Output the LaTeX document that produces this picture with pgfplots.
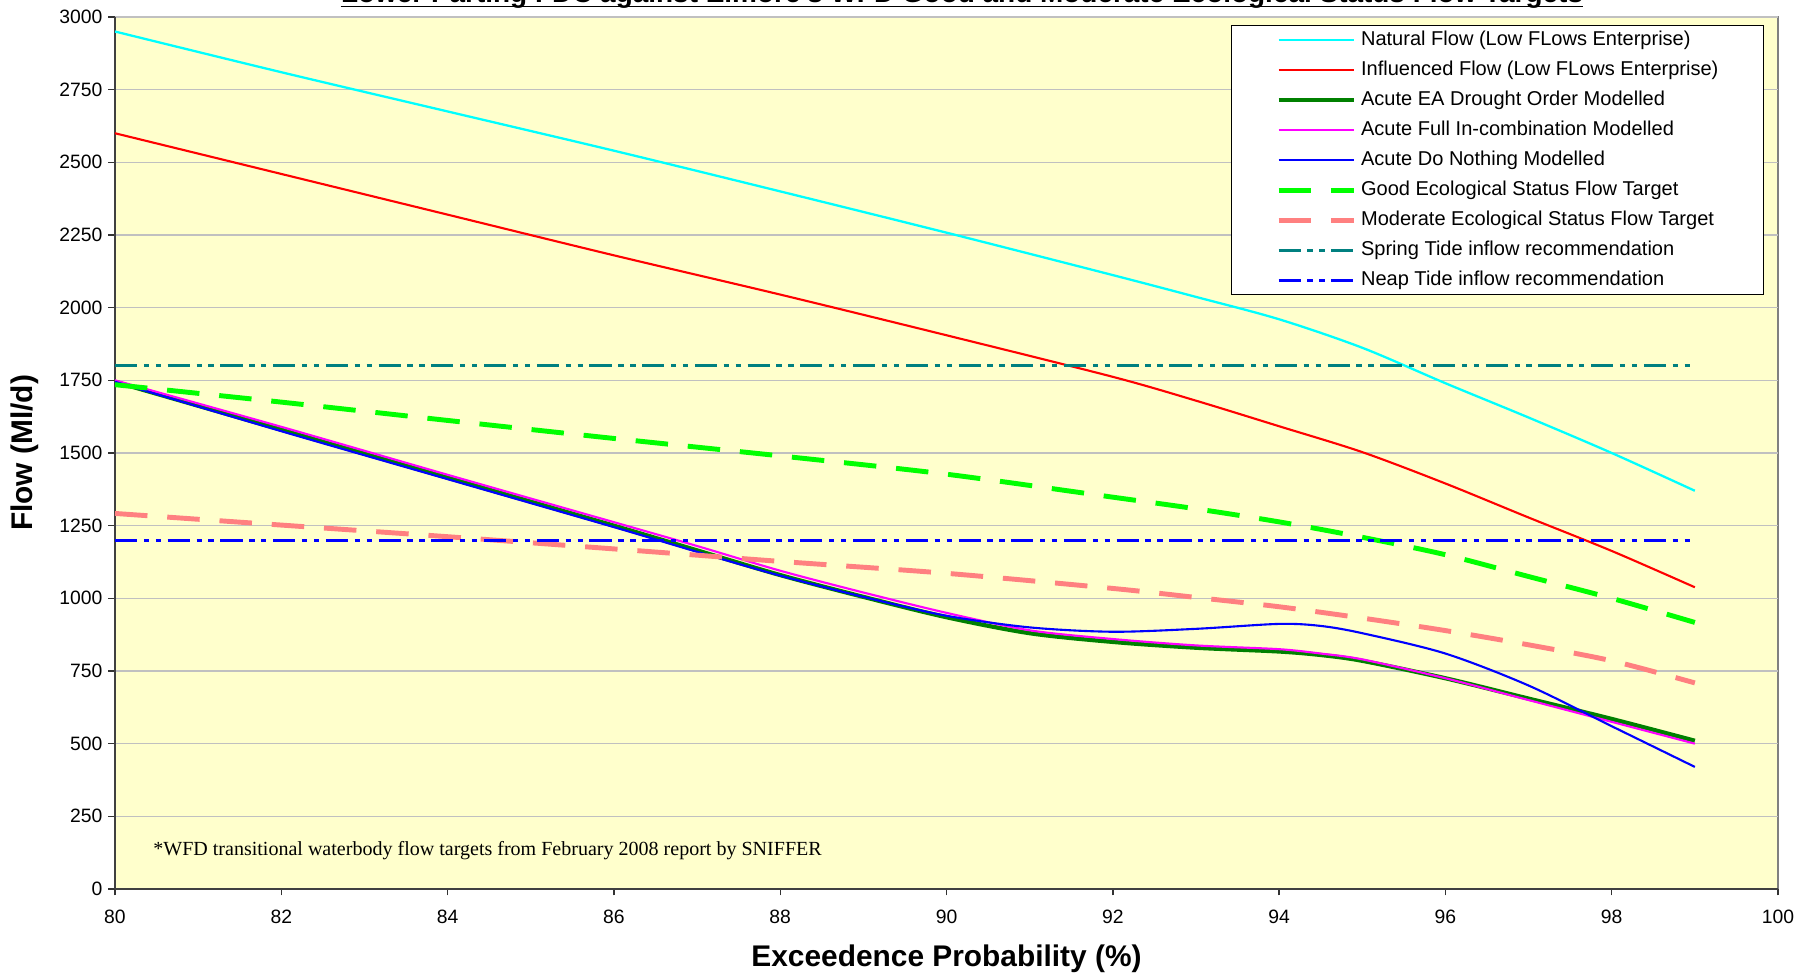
\documentclass[border=0pt]{standalone}
\usepackage{pgfplots}
\pgfplotsset{compat=1.18}
\usepackage{fontspec}
\setmainfont{Liberation Sans}
\newfontfamily\timesfont{Liberation Serif}
\definecolor{plotbg}{HTML}{FFFFCC}
\definecolor{cyanl}{HTML}{00FFFF}
\definecolor{dgreen}{HTML}{008000}
\definecolor{bgreen}{HTML}{00FF00}
\definecolor{pinkl}{HTML}{FF8080}
\definecolor{teall}{HTML}{008080}
\definecolor{magl}{HTML}{FF00FF}
\definecolor{gridc}{HTML}{C0C0C0}
\begin{document}
\begin{tikzpicture}
\begin{axis}[
  at={(0,0)}, anchor=south west,
  scale only axis, width=332.6mm, height=174.4mm,
  xmin=80, xmax=100, ymin=0, ymax=3000,
  xtick={80,82,...,100}, ytick={0,250,...,3000},
  axis lines=left,
  x axis line style={-, draw=black!75, line width=1pt},
  y axis line style={-, draw=black!75, line width=1pt},
  axis background/.style={fill=plotbg, draw=gray, line width=0.8pt},
  ymajorgrids, grid style={draw=gridc, line width=0.7pt},
  tick align=outside, major tick length=1.3mm,
  tick style={draw=black!80, line width=0.8pt},
  scaled ticks=false,
  /pgf/number format/1000 sep={},
  /pgf/number format/assume math mode=true,
  ticklabel style={font=\fontsize{11}{13}\selectfont},
  xticklabel style={yshift=-1.6mm},
  xlabel={Exceedence Probability (\%)},
  ylabel={Flow (Ml/d)},
  every axis x label/.style={at={(axis description cs:0.5,-0.0803)}, anchor=center, font=\bfseries\fontsize{17}{20}\selectfont},
  every axis y label/.style={at={(axis description cs:-0.0541,0.5)}, anchor=center, rotate=90, font=\bfseries\fontsize{17}{20}\selectfont},
  legend style={at={(rel axis cs:0.99158,0.99083)}, anchor=north east,
    draw=black, line width=0.6pt, fill=white,
    inner xsep=8mm, inner ysep=1mm, row sep=6.3pt,
    font=\fontsize{11.4}{13}\selectfont,
    nodes={inner ysep=0pt, inner xsep=1mm, text height=8.3pt, text depth=2.5pt}},
  legend cell align=left,
  legend image code/.code={\path (-0.9mm,0mm); \draw[#1] (0mm,0mm) -- (15mm,0mm);},
]
\addplot[cyanl, line width=1.3pt, smooth] coordinates {
(80,2950) (82,2810) (84,2675) (86,2540) (88,2400) (90,2258) (92,2112) (93,2037) (94,1960) (95,1862) (96,1740) (97,1622) (98,1500) (99,1370)};
\addlegendentry{Natural Flow (Low FLows Enterprise)}
\addplot[red, line width=1.2pt, smooth] coordinates {
(80,2600) (82,2460) (84,2320) (86,2180) (88,2045) (90,1905) (92,1762) (93,1680) (94,1592) (95,1503) (96,1395) (97,1278) (98,1163) (99,1038)};
\addlegendentry{Influenced Flow (Low FLows Enterprise)}
\addplot[dgreen, line width=2.4pt, smooth] coordinates {
(80,1745) (82,1580) (84,1415) (86,1250) (87,1165) (88,1080) (89,1005) (90,935) (91,880) (92,850) (93,830) (94,817) (94.5,805) (95,785) (96,725) (97,655) (98,585) (99,510)};
\addlegendentry{Acute EA Drought Order Modelled}
\addplot[magl, line width=1.2pt, smooth] coordinates {
(80,1750) (82,1590) (84,1425) (86,1262) (87,1180) (88,1095) (89,1020) (90,950) (91,890) (92,860) (93,838) (94,825) (94.5,810) (95,790) (96,725) (97,650) (98,575) (99,500)};
\addlegendentry{Acute Full In-combination Modelled}
\addplot[blue, line width=1.2pt, smooth] coordinates {
(80,1745) (82,1575) (84,1410) (86,1245) (87,1160) (88,1078) (89,1005) (90,940) (91,900) (92,885) (93,895) (94,912) (94.5,905) (95,880) (96,810) (97,700) (98,560) (99,420)};
\addlegendentry{Acute Do Nothing Modelled}
\addplot[bgreen, line width=2.8pt, smooth, dash pattern=on 18.5pt off 11.3pt] coordinates {
(80,1735) (82,1675) (84,1612) (86,1550) (88,1490) (90,1427) (92,1348) (93,1308) (94,1263) (95,1210) (96,1150) (97,1075) (98,1000) (99,917)};
\addlegendentry{Good Ecological Status Flow Target}
\addplot[pinkl, line width=2.8pt, smooth, dash pattern=on 18.5pt off 11.3pt] coordinates {
(80,1292) (82,1252) (84,1212) (86,1170) (88,1127) (90,1086) (92,1034) (93,1003) (94,971) (95,932) (96,889) (97,840) (98,785) (99,709)};
\addlegendentry{Moderate Ecological Status Flow Target}
\addplot[teall, line width=1.5pt, dash pattern=on 12.6pt off 3.8pt on 3pt off 3.8pt on 3pt off 3.8pt] coordinates {(80,1800) (99,1800)};
\addlegendentry{Spring Tide inflow recommendation}
\addplot[blue, line width=1.8pt, dash pattern=on 12.6pt off 3.8pt on 3pt off 3.8pt on 3pt off 3.8pt] coordinates {(80,1200) (99,1200)};
\addlegendentry{Neap Tide inflow recommendation}
\node[anchor=west, font=\timesfont\fontsize{11.4}{13}\selectfont, inner sep=0pt] at (rel axis cs:0.02285,0.0439) {*WFD transitional waterbody flow targets from February 2008 report by SNIFFER};
\end{axis}
\node[anchor=base, inner sep=0pt, font=\bfseries\fontsize{15.9}{18}\selectfont] (title) at (169.4mm,177.2mm) {Lower Parting FDC against Elmore's WFD Good and Moderate Ecological Status Flow Targets};
\draw[line width=1pt] ([yshift=-0.7mm]title.base west) -- ([yshift=-0.7mm]title.base east);
\pgfresetboundingbox
\useasboundingbox (-23mm,-18mm) rectangle (338mm,177.8mm);
\end{tikzpicture}
\end{document}
